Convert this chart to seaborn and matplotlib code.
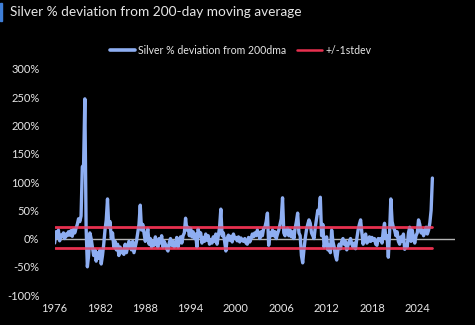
import numpy as np
import pandas as pd
import matplotlib
matplotlib.use("Agg")
import matplotlib.pyplot as plt
import seaborn as sns
from matplotlib.lines import Line2D

# ---------------- data (bi-monthly readings, % deviation from 200dma) ----------------
start_year = 1976
steps_per_year = 6
deviation = [
    # 1976
    -8, 12, 2, 15, -4, 6,
    # 1977
    3, 10, 0, 8, 5, 12,
    # 1978
    6, 14, 4, 16, 10, 18,
    # 1979
    25, 35, 30, 40, 127, 130,
    # 1980
    247, 20, -50, -30, 10, 0,
    # 1981
    -15, -30, -20, -40, -25, -35,
    # 1982
    -20, -45, -30, -10, 15, 33,
    # 1983
    70, 20, 30, 0, 10, -15,
    # 1984
    -5, -20, -10, -30, -15, -25,
    # 1985
    -20, -28, -10, -25, -15, -5,
    # 1986
    -10, -20, -5, -25, -15, -5,
    # 1987
    10, 25, 59, 15, 25, 10,
    # 1988
    -5, 5, 17, -10, 0, -15,
    # 1989
    -5, -12, 3, -8, -15, 0,
    # 1990
    -8, 5, -15, -5, -10, -18,
    # 1991
    -22, -8, 0, -12, -5, -15,
    # 1992
    -10, 2, -15, -5, 3, -8,
    # 1993
    5, 10, 36, 15, 20, 5,
    # 1994
    18, 3, 12, 0, 8, -15,
    # 1995
    17, 5, 10, -8, 2, -5,
    # 1996
    8, -3, 5, -10, -2, -8,
    # 1997
    3, -5, 8, -10, 5, 20,
    # 1998
    52, 5, 10, -5, -22, 0,
    # 1999
    6, -3, 4, -6, 8, 0,
    # 2000
    2, -4, 3, -6, 1, -3,
    # 2001
    -5, 0, -8, -10, 2, -6,
    # 2002
    0, 8, 3, 10, 5, 15,
    # 2003
    8, 0, 12, 5, 18, 20,
    # 2004
    30, 45, -12, 10, 5, 15,
    # 2005
    5, 12, 0, 8, 15, 25,
    # 2006
    35, 72, 10, 5, 15, 18,
    # 2007
    5, 15, 3, 12, 0, 18,
    # 2008
    30, 45, 10, 5, -30, -43,
    # 2009
    -20, 0, 15, 25, 33, 27,
    # 2010
    10, 5, 0, 20, 35, 50,
    # 2011
    45, 73, 5, 25, -15, -5,
    # 2012
    3, -20, -12, -25, 15, -5,
    # 2013
    -15, -30, -38, -20, -10, -18,
    # 2014
    -5, 0, -10, -5, -20, -12,
    # 2015
    -5, 0, -10, -15, -8, -18,
    # 2016
    0, 15, 25, 33, 10, -10,
    # 2017
    3, 8, -8, -5, 3, -5,
    # 2018
    2, -3, 0, -10, -12, 0,
    # 2019
    -3, 0, -8, 15, 27, 0,
    # 2020
    5, -33, 10, 70, 30, 20,
    # 2021
    15, 5, 12, -5, -10, 3,
    # 2022
    -5, 8, -19, -12, -15, 10,
    # 2023
    20, -5, 15, 0, -8, 5,
    # 2024
    10, 33, 25, 10, 15, 5,
    # 2025
    12, 20, 8, 15, 28, 50,
    # 2026
    107,
]
stdev_upper = 20.0
stdev_lower = -16.0
x_ticks = [1976, 1982, 1988, 1994, 2000, 2006, 2012, 2018, 2024]
y_ticks = [-100, -50, 0, 50, 100, 150, 200, 250, 300]

title_text = "Silver % deviation from 200-day moving average"
series_label = "Silver % deviation from 200dma"
band_label = "+/-1stdev"

# ---------------- build tables ----------------
dates = start_year + np.arange(len(deviation)) / steps_per_year
df = pd.DataFrame({"date": dates, "value": deviation})
band = pd.DataFrame({
    "date": [dates[0], dates[-1], dates[0], dates[-1]],
    "value": [stdev_upper, stdev_upper, stdev_lower, stdev_lower],
    "which": ["upper", "upper", "lower", "lower"],
})

# ---------------- style ----------------
sns.set_style("dark")
plt.rcParams["font.family"] = ["Lato", "DejaVu Sans"]
bg = "#000000"
txt = "#e6e6e6"
blue = "#8eaef2"
red = "#e8304f"

fig = plt.figure(figsize=(4.75, 3.25), dpi=100, facecolor=bg)
ax = fig.add_axes([0.115, 0.092, 0.843, 0.696], facecolor=bg)

ax.axhline(0, color="#b4b4b4", lw=1.0, zorder=1)
sns.lineplot(data=band, x="date", y="value", units="which", estimator=None,
             color=red, lw=1.8, ax=ax, zorder=2)
sns.lineplot(data=df, x="date", y="value", color=blue, lw=2.4, ax=ax, zorder=3)
sns.lineplot(data=band, x="date", y="value", units="which", estimator=None,
             color=red, lw=1.8, ax=ax, zorder=4, alpha=0.7)

ax.set_xlim(1976, 2029)
ax.set_ylim(-100, 300)
ax.set_xticks(x_ticks)
ax.set_xticklabels([str(t) for t in x_ticks])
ax.set_yticks(y_ticks)
ax.set_yticklabels([f"{t}%" for t in y_ticks])
ax.tick_params(axis="both", length=0, colors=txt, labelsize=8)
ax.tick_params(axis="x", pad=6)
ax.tick_params(axis="y", pad=11)
ax.set_xlabel("")
ax.set_ylabel("")
ax.grid(False)
for s in ax.spines.values():
    s.set_visible(False)

# title with blue accent bar
fig.text(10 / 475, 1 - 12 / 325, title_text, color=txt, fontsize=9.8,
         ha="left", va="center")
fig.add_artist(plt.Rectangle((0, 1 - 21 / 325), 2 / 475, 18 / 325,
                             transform=fig.transFigure, color="#3f7fd8"))

# legend
handles = [Line2D([], [], color=blue, lw=2.6), Line2D([], [], color=red, lw=1.8)]
leg = fig.legend(handles, [series_label, band_label], loc="center",
                 bbox_to_anchor=(0.507, 0.846), ncol=2, frameon=False,
                 fontsize=7.6, handlelength=2.4, handletextpad=0.3,
                 columnspacing=1.0)
for t in leg.get_texts():
    t.set_color(txt)

fig.savefig("out.png", dpi=100, facecolor=bg)
